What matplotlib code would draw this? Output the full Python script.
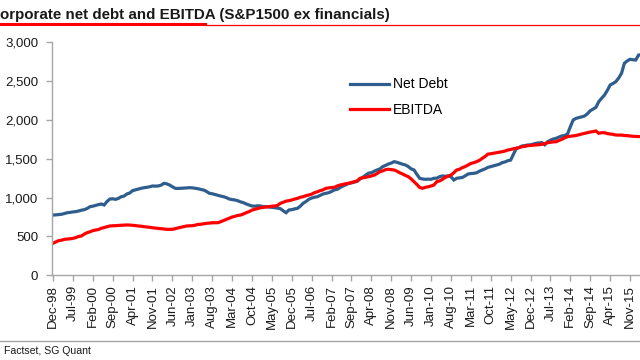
import matplotlib
matplotlib.use("Agg")
import matplotlib.pyplot as plt
from matplotlib.lines import Line2D
import numpy as np

plt.rcParams['font.family'] = ['Liberation Sans', 'DejaVu Sans']

# Monthly data, Dec-98 .. Mar-16
net_debt = [
    776, 778, 782, 786, 795, 806, 810, 816, 820, 828, 838, 845,
    860, 883, 890, 900, 910, 918, 905, 950, 982, 985, 978, 990,
    1012, 1020, 1047, 1060, 1090, 1100, 1110, 1120, 1128, 1133, 1140, 1150,
    1148, 1150, 1160, 1184, 1178, 1163, 1140, 1120, 1118, 1120, 1122, 1125,
    1128, 1126, 1120, 1115, 1105, 1098, 1080, 1056, 1050, 1040, 1030, 1020,
    1012, 1000, 982, 975, 970, 960, 945, 935, 918, 905, 892, 890,
    895, 892, 885, 883, 880, 875, 870, 865, 858, 830, 806, 841,
    845, 855, 862, 890, 927, 950, 979, 995, 1005, 1012, 1030, 1047,
    1055, 1064, 1080, 1100, 1107, 1130, 1150, 1165, 1184, 1190, 1200, 1210,
    1240, 1262, 1290, 1315, 1321, 1340, 1356, 1370, 1399, 1415, 1433, 1445,
    1463, 1455, 1442, 1430, 1420, 1400, 1370, 1356, 1300, 1249, 1240, 1236,
    1238, 1236, 1249, 1250, 1270, 1279, 1275, 1279, 1270, 1227, 1249, 1255,
    1260, 1280, 1304, 1310, 1313, 1320, 1340, 1356, 1370, 1390, 1399, 1410,
    1420, 1430, 1450, 1460, 1475, 1484, 1560, 1635, 1645, 1665, 1670, 1678,
    1680, 1690, 1700, 1705, 1708, 1680, 1720, 1740, 1755, 1764, 1780, 1794,
    1800, 1819, 1913, 2000, 2021, 2030, 2040, 2051, 2080, 2119, 2140, 2163,
    2236, 2280, 2320, 2380, 2450, 2470, 2493, 2540, 2601, 2730, 2760, 2781,
    2775, 2772, 2836, 2840,
]
ebitda = [
    412, 430, 446, 452, 463, 466, 470, 476, 485, 500, 506, 530,
    549, 560, 575, 583, 590, 605, 615, 625, 635, 638, 639, 642,
    644, 646, 648, 647, 644, 640, 635, 632, 626, 622, 618, 612,
    608, 605, 600, 595, 592, 592, 592, 600, 610, 618, 625, 635,
    637, 639, 645, 655, 657, 663, 669, 672, 677, 677, 677, 690,
    705, 721, 735, 750, 760, 770, 776, 790, 806, 820, 840, 850,
    860, 870, 875, 880, 883, 890, 892, 900, 927, 940, 955, 961,
    970, 982, 990, 1005, 1012, 1025, 1034, 1045, 1064, 1075, 1090, 1100,
    1120, 1125, 1130, 1133, 1150, 1163, 1170, 1180, 1184, 1195, 1205, 1215,
    1249, 1255, 1262, 1270, 1279, 1290, 1310, 1334, 1345, 1360, 1365, 1360,
    1356, 1340, 1320, 1304, 1285, 1270, 1240, 1205, 1170, 1130, 1120, 1133,
    1140, 1150, 1163, 1205, 1215, 1236, 1260, 1275, 1291, 1320, 1356, 1365,
    1386, 1400, 1420, 1440, 1450, 1463, 1480, 1506, 1530, 1560, 1565, 1572,
    1579, 1585, 1591, 1600, 1613, 1620, 1630, 1635, 1645, 1656, 1660, 1669,
    1672, 1675, 1678, 1682, 1687, 1695, 1708, 1712, 1718, 1720, 1735, 1751,
    1770, 1785, 1790, 1794, 1800, 1810, 1819, 1828, 1836, 1845, 1850, 1858,
    1828, 1836, 1836, 1825, 1819, 1815, 1806, 1805, 1806, 1800, 1798, 1794,
    1790, 1788, 1785, 1785,
]
tick_labels = ['Dec-98', 'Jul-99', 'Feb-00', 'Sep-00', 'Apr-01', 'Nov-01', 'Jun-02',
               'Jan-03', 'Aug-03', 'Mar-04', 'Oct-04', 'May-05', 'Dec-05', 'Jul-06',
               'Feb-07', 'Sep-07', 'Apr-08', 'Nov-08', 'Jun-09', 'Jan-10', 'Aug-10',
               'Mar-11', 'Oct-11', 'May-12', 'Dec-12', 'Jul-13', 'Feb-14', 'Sep-14',
               'Apr-15', 'Nov-15']
y_ticks = [0, 500, 1000, 1500, 2000, 2500, 3000]

W, H = 640, 360
fig = plt.figure(figsize=(6.4, 3.6), dpi=100)
ax = fig.add_axes([52 / W, (H - 275.3) / H, (W - 52) / W, 233 / H])

months = np.arange(len(net_debt))
ax.plot(months, net_debt, color='#2E5D8E', lw=2.3, label='Net Debt', solid_joinstyle='miter')
ax.plot(months, ebitda, color='#FF0000', lw=2.3, label='EBITDA', solid_joinstyle='miter')

ax.set_xlim(-0.35, 206.5)
ax.set_ylim(0, 3000)
ax.set_yticks(y_ticks)
ax.set_yticklabels([f"{v:,}" for v in y_ticks])
ax.set_xticks(np.arange(len(tick_labels)) * 7)
ax.set_xticklabels(tick_labels, rotation=90)

for s in ['top', 'right']:
    ax.spines[s].set_visible(False)
for s in ['left', 'bottom']:
    ax.spines[s].set_color('#A6A6A6')
    ax.spines[s].set_linewidth(1.0)
ax.tick_params(axis='both', colors='#A6A6A6', labelcolor='#1A1A1A', labelsize=9.5,
               length=4, width=1.0, direction='out')
ax.tick_params(axis='y', pad=6)
ax.tick_params(axis='x', pad=3)

ax.legend(loc='upper left', bbox_to_anchor=(350 / W, 1 - 77.5 / H), bbox_transform=fig.transFigure,
          frameon=False, fontsize=10, handlelength=2.8, handletextpad=0.3, labelspacing=0.85,
          borderpad=0, borderaxespad=0)

# Title and decorations
fig.text(0, 1 - 19 / H, 'orporate net debt and EBITDA (S&P1500 ex financials)',
         fontsize=10.9, fontweight='bold', color='#1A1A1A', ha='left', va='baseline')
fig.add_artist(Line2D([0, 205 / W], [1 - 24 / H, 1 - 24 / H], color='#FF0000', lw=2.2,
                      transform=fig.transFigure))
fig.add_artist(Line2D([205 / W, 1], [1 - 25 / H, 1 - 25 / H], color='#FF0000', lw=0.9,
                      transform=fig.transFigure))
fig.add_artist(Line2D([0, 1], [1 - 341 / H, 1 - 341 / H], color='#A6A6A6', lw=1.0,
                      transform=fig.transFigure))
fig.text(4 / W, 1 - 351 / H, 'Factset, SG Quant', fontsize=7.6, color='#1A1A1A',
         ha='left', va='center')

fig.savefig('out.png', dpi=100)
